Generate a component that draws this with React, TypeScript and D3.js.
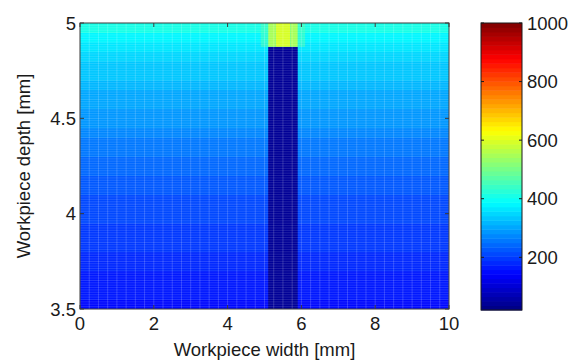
import React from 'react';
import * as d3 from 'd3';

// Depth rows (lower edge, mm) and background temperature
const rowLower = [3.5, 3.55, 3.6, 3.65, 3.7, 3.75, 3.8, 3.85, 3.9, 3.95, 4.0, 4.05, 4.1, 4.15, 4.2, 4.25, 4.3, 4.35, 4.4, 4.45, 4.5, 4.55, 4.6, 4.65, 4.7, 4.75, 4.8, 4.85, 4.9, 4.95];
const rowValues = [155, 160, 167, 173, 179, 184, 190, 195, 200, 205, 211, 218, 225, 232, 240, 248, 256, 264, 273, 282, 291, 300, 310, 320, 330, 341, 352, 366, 385, 415];
const rowStep = 0.05;

// Cold column (tool) region
const columnX = [5.1, 5.9];
const columnTop = 4.875;
const columnValue = 50;

// Hot segments above column
const hotX = [5.1, 5.3, 5.7, 5.9];
const hotValues = [550, 590, 550];
// Slight glow beside hot segments
const glowX = [[4.9, 5.1], [5.9, 6.1]];
const glowValue = 455;

const xTicks = [0, 2, 4, 6, 8, 10];
const yTicks = [3.5, 4, 4.5, 5];
const cbTicks = [200, 400, 600, 800, 1000];
const cMin = 20, cMax = 1000;

function jet(v: number): string {
  let f = (v - cMin) / (cMax - cMin);
  let lvl = Math.floor(f * 64);
  lvl = Math.max(0, Math.min(63, lvl));
  const t = (lvl + 0.5) / 64;
  const c = (x: number) => Math.round(255 * Math.max(0, Math.min(1, x)));
  const r = c(1.5 - Math.abs(4 * t - 3));
  const g = c(1.5 - Math.abs(4 * t - 2));
  const b = c(1.5 - Math.abs(4 * t - 1));
  return `rgb(${r},${g},${b})`;
}

const L = 80, R = 449, T = 23, B = 309;
const cbL = 481, cbR = 522, cbT = 23, cbB = 310;
const font = '"Liberation Sans", Arial, sans-serif';
const fs = 18.5;

export default function App() {
  const x = d3.scaleLinear().domain([0, 10]).range([L, R]);
  const y = d3.scaleLinear().domain([3.5, 5]).range([B, T]);
  const cy = d3.scaleLinear().domain([cMin, cMax]).range([cbB, cbT]);

  const meshV = d3.range(0, 10.0001, 0.25);
  const meshH = d3.range(3.5, 5.0001, 0.0125);
  const cbLevels = d3.range(64);

  return (
    <svg width={570} height={360} style={{ position: 'absolute', left: 0, top: 0, background: '#fff' }}>
      <defs>
        <clipPath id="plotClip">
          <rect x={L} y={T} width={R - L} height={B - T} />
        </clipPath>
      </defs>
      <g clipPath="url(#plotClip)">
        {rowLower.map((d, i) => (
          <rect key={'r' + i} x={x(0)} y={y(d + rowStep)} width={x(10) - x(0)} height={y(d) - y(d + rowStep) + 0.5} fill={jet(rowValues[i])} />
        ))}
        {glowX.map((g, i) => (
          <rect key={'g' + i} x={x(g[0])} y={y(5)} width={x(g[1]) - x(g[0])} height={y(columnTop) - y(5)} fill={jet(glowValue)} opacity={0.6} />
        ))}
        <rect x={x(columnX[0])} y={y(columnTop)} width={x(columnX[1]) - x(columnX[0])} height={y(3.5) - y(columnTop)} fill={jet(columnValue)} />
        {hotValues.map((v, i) => (
          <rect key={'h' + i} x={x(hotX[i])} y={y(5)} width={x(hotX[i + 1]) - x(hotX[i])} height={y(columnTop) - y(5)} fill={jet(v)} />
        ))}
        {meshH.map((d, i) => (
          <line key={'mh' + i} x1={L} x2={R} y1={y(d)} y2={y(d)} stroke="#fff" strokeOpacity={0.13} strokeWidth={1} />
        ))}
        {meshV.map((d, i) => (
          <line key={'mv' + i} x1={x(d)} x2={x(d)} y1={T} y2={B} stroke="#fff" strokeOpacity={0.18} strokeWidth={1} />
        ))}
      </g>
      <rect x={L} y={T} width={R - L} height={B - T} fill="none" stroke="#3a3a3a" strokeWidth={1} />
      {xTicks.map((t) => (
        <g key={'xt' + t}>
          <line x1={x(t)} x2={x(t)} y1={B} y2={B - 4} stroke="#3a3a3a" />
          <line x1={x(t)} x2={x(t)} y1={T} y2={T + 4} stroke="#3a3a3a" />
          <text x={x(t)} y={B + 21} textAnchor="middle" fontFamily={font} fontSize={fs} fill="#1a1a1a">{t}</text>
        </g>
      ))}
      {yTicks.map((t) => (
        <g key={'yt' + t}>
          <line x1={L} x2={L + 4} y1={y(t)} y2={y(t)} stroke="#3a3a3a" />
          <line x1={R} x2={R - 4} y1={y(t)} y2={y(t)} stroke="#3a3a3a" />
          <text x={L - 4} y={y(t) + 6.5} textAnchor="end" fontFamily={font} fontSize={fs} fill="#1a1a1a">{t}</text>
        </g>
      ))}
      <text x={(L + R) / 2} y={356} textAnchor="middle" fontFamily={font} fontSize={fs} fill="#1a1a1a">Workpiece width [mm]</text>
      <text transform={`translate(30,${(T + B) / 2}) rotate(-90)`} textAnchor="middle" fontFamily={font} fontSize={fs} fill="#1a1a1a">Workpiece depth [mm]</text>

      {cbLevels.map((i) => {
        const v0 = cMin + (i / 64) * (cMax - cMin);
        const v1 = cMin + ((i + 1) / 64) * (cMax - cMin);
        return <rect key={'cb' + i} x={cbL} y={cy(v1)} width={cbR - cbL} height={cy(v0) - cy(v1) + 0.5} fill={jet((v0 + v1) / 2)} />;
      })}
      <rect x={cbL} y={cbT} width={cbR - cbL} height={cbB - cbT} fill="none" stroke="#1a1a1a" strokeWidth={1} />
      {cbTicks.map((t) => (
        <g key={'cbt' + t}>
          <line x1={cbL} x2={cbL + 3} y1={cy(t)} y2={cy(t)} stroke="#1a1a1a" />
          <line x1={cbR} x2={cbR - 3} y1={cy(t)} y2={cy(t)} stroke="#1a1a1a" />
          <text x={cbR + 5} y={cy(t) + 6.5} fontFamily={font} fontSize={fs} fill="#1a1a1a">{t}</text>
        </g>
      ))}
    </svg>
  );
}
